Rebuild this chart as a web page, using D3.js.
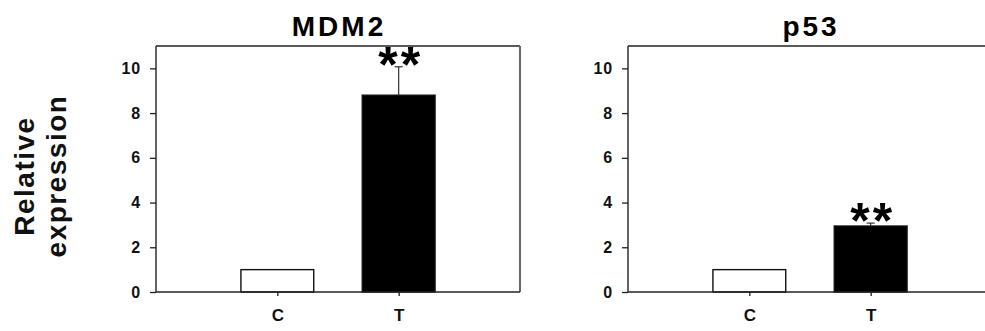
<!DOCTYPE html>
<html>
<head>
<meta charset="utf-8">
<script src="https://cdn.jsdelivr.net/npm/d3@7"></script>
<style>
  html, body { margin: 0; padding: 0; background: #fff; }
  svg { display: block; font-family: "Liberation Sans", Arial, Helvetica, sans-serif; }
</style>
</head>
<body>
<svg id="chart" width="985" height="331"></svg>
<script>
// Relative expression of MDM2 and p53 in control (C) vs treated (T)
const categories = ["C", "T"];
const panelTitles = ["MDM2", "p53"];
const mdm2Values = [1.0, 8.8];
const mdm2Errors = [0, 1.27];
const p53Values = [1.0, 2.95];
const p53Errors = [0, 0.13];
const significance = ["", "**"];
const yTicks = [0, 2, 4, 6, 8, 10];
const yMax = 11;
const barFills = ["#ffffff", "#000000"];

const panels = [
  { title: panelTitles[0], values: mdm2Values, errors: mdm2Errors, left: 156, right: 520 },
  { title: panelTitles[1], values: p53Values, errors: p53Errors, left: 628, right: 992 }
];

const svg = d3.select("#chart");
const plotTop = 46, plotBottom = 292;

const y = d3.scaleLinear().domain([0, yMax]).range([plotBottom, plotTop]);

panels.forEach(p => {
  const g = svg.append("g");
  const x = d3.scalePoint().domain(categories).range([p.left, p.right]).padding(1);
  const barW = (p.right - p.left) * 0.2;

  // frame: top, left and right edges
  g.append("line").attr("x1", p.left).attr("x2", p.right).attr("y1", plotTop).attr("y2", plotTop)
    .attr("stroke", "#222").attr("stroke-width", 1.4);
  g.append("line").attr("x1", p.left).attr("x2", p.left).attr("y1", plotTop).attr("y2", plotBottom)
    .attr("stroke", "#222").attr("stroke-width", 1.4);
  g.append("line").attr("x1", p.right).attr("x2", p.right).attr("y1", plotTop).attr("y2", plotBottom)
    .attr("stroke", "#666").attr("stroke-width", 2);

  // bars
  g.selectAll("rect.bar").data(categories).join("rect")
    .attr("class", "bar")
    .attr("x", d => x(d) - barW / 2)
    .attr("width", barW)
    .attr("y", (d, i) => y(p.values[i]))
    .attr("height", (d, i) => y(0) - y(p.values[i]))
    .attr("fill", (d, i) => barFills[i])
    .attr("stroke", "#111")
    .attr("stroke-width", 1.4);

  // upper error bars
  const errData = categories.map((c, i) => ({ c, v: p.values[i], e: p.errors[i] }))
    .filter(d => d.e > 0);
  g.selectAll("line.err").data(errData).join("line")
    .attr("class", "err")
    .attr("x1", d => x(d.c)).attr("x2", d => x(d.c))
    .attr("y1", d => y(d.v)).attr("y2", d => y(d.v + d.e))
    .attr("stroke", "#333").attr("stroke-width", 1.2);
  g.selectAll("line.cap").data(errData).join("line")
    .attr("class", "cap")
    .attr("x1", d => x(d.c) - 4).attr("x2", d => x(d.c) + 4)
    .attr("y1", d => y(d.v + d.e)).attr("y2", d => y(d.v + d.e))
    .attr("stroke", "#333").attr("stroke-width", 1.2);

  // significance marks
  const sigData = categories.map((c, i) => ({ c, tip: p.values[i] + p.errors[i], s: significance[i] }))
    .filter(d => d.s);
  g.selectAll("text.sig").data(sigData).join("text")
    .attr("class", "sig")
    .attr("x", d => x(d.c) + 2)
    .attr("y", d => y(d.tip) + 15)
    .attr("text-anchor", "middle")
    .attr("font-size", 50)
    .attr("font-weight", "bold")
    .attr("letter-spacing", 3)
    .text(d => d.s);

  // y axis
  const ya = g.append("g").attr("transform", `translate(${p.left},0)`)
    .call(d3.axisLeft(y).tickValues(yTicks).tickSize(6).tickPadding(9));
  ya.select(".domain").remove();
  ya.selectAll(".tick line").attr("stroke", "#222").attr("stroke-width", 1.3);
  ya.selectAll(".tick text").attr("font-size", 16).attr("font-weight", "bold")
    .attr("letter-spacing", 0.8).attr("fill", "#111")
    .attr("font-family", "'Liberation Sans', Arial, sans-serif");

  // x axis
  const xa = g.append("g").attr("transform", `translate(0,${plotBottom})`)
    .call(d3.axisBottom(x).tickSize(4).tickPadding(13));
  xa.select(".domain").remove();
  xa.selectAll(".tick line").attr("stroke", "#222").attr("stroke-width", 1.3);
  xa.selectAll(".tick text").attr("font-size", 17).attr("font-weight", "bold").attr("fill", "#111")
    .attr("font-family", "'Liberation Sans', Arial, sans-serif");
  g.append("line").attr("x1", p.left).attr("x2", p.right).attr("y1", plotBottom).attr("y2", plotBottom)
    .attr("stroke", "#222").attr("stroke-width", 1.4);

  // panel title
  g.append("text")
    .attr("x", (p.left + p.right) / 2 + 1)
    .attr("y", 36)
    .attr("text-anchor", "middle")
    .attr("font-size", 28)
    .attr("font-weight", "bold")
    .attr("letter-spacing", 3)
    .text(p.title);
});

// shared y-axis label
const ylab = svg.append("text")
  .attr("transform", "translate(0,176) rotate(-90)")
  .attr("text-anchor", "middle")
  .attr("font-size", 28)
  .attr("font-weight", "bold")
  .attr("letter-spacing", 1.5)
  .attr("fill", "#111");
ylab.append("tspan").attr("x", 0).attr("y", 34).text("Relative");
ylab.append("tspan").attr("x", 0).attr("y", 66).text("expression");
</script>
</body>
</html>
